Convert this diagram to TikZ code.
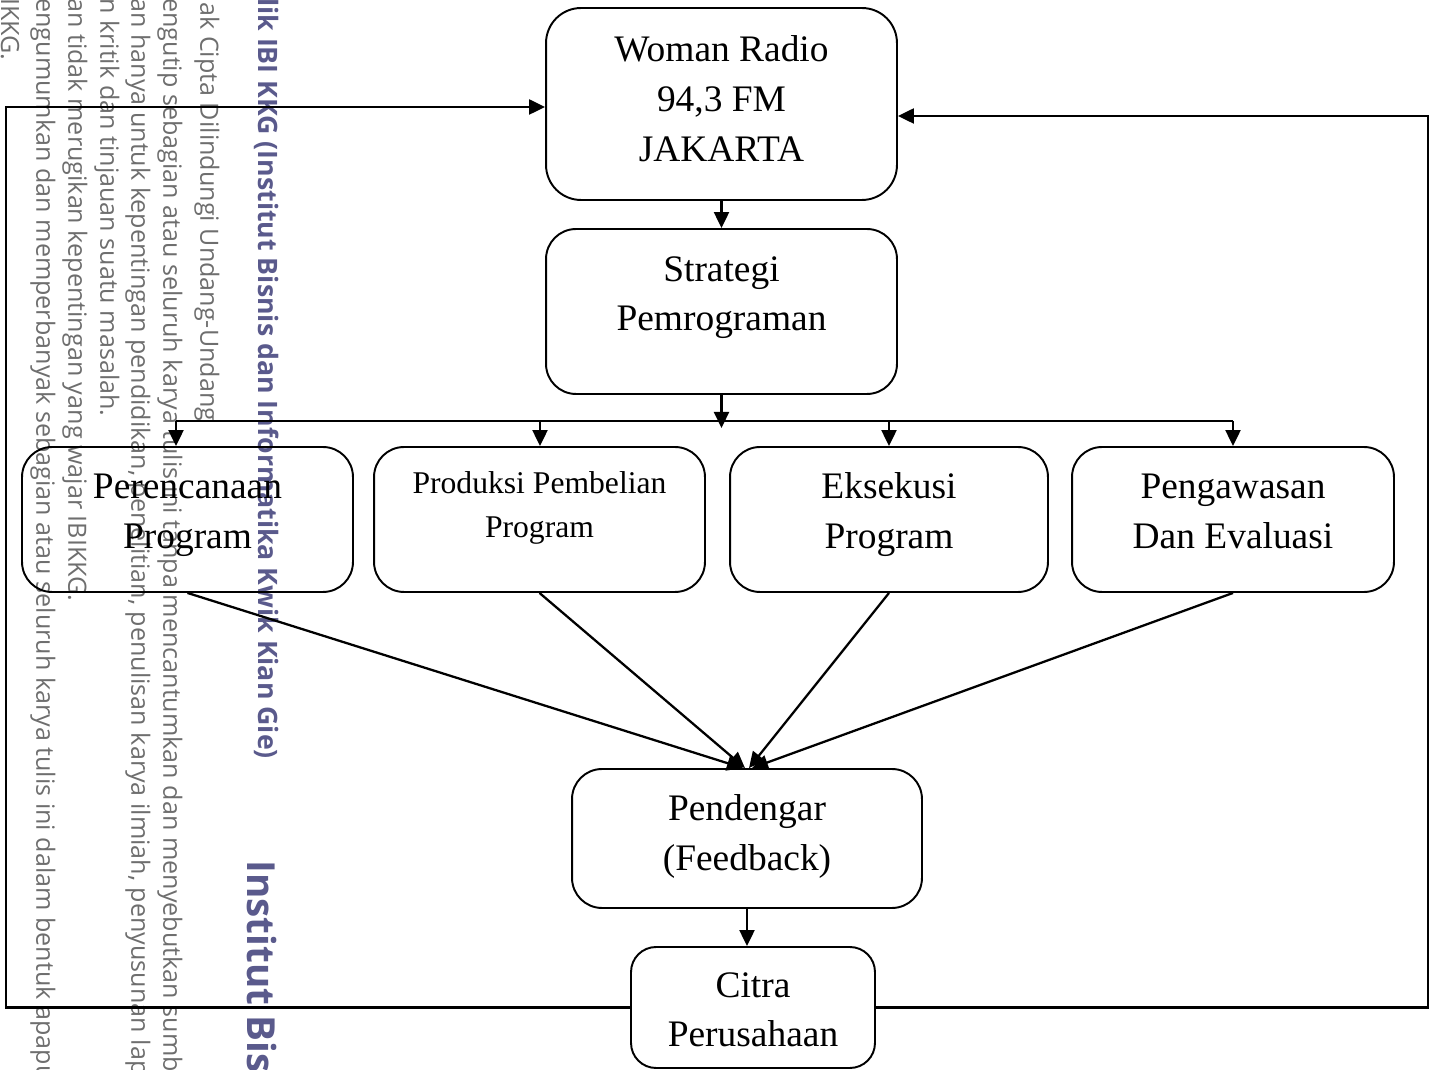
\documentclass[tikz,border=0pt]{standalone}
\usepackage{fontspec}
\setmainfont{Liberation Serif}
\newfontfamily\wmfont{Open Sans}
\usetikzlibrary{arrows.meta,positioning,calc}

\definecolor{wmGray}{HTML}{6E6E6E}
\definecolor{wmPurple}{HTML}{5A5A8C}

% text block of a box, lifted a bit inside its frame
\newcommand{\liftlines}[2]{\raisebox{#1}[\height][\depth]{\begin{tabular}{@{}c@{}}#2\end{tabular}}}

\tikzset{
    flowbox/.style={rectangle, draw, rounded corners=0.6cm, line width=1.1pt, align=center,
        inner sep=2pt, font=\fontsize{21.3}{28.4}\selectfont},
    smallbox/.style={flowbox, font=\fontsize{18}{25}\selectfont},
    arr/.style={-{Triangle[length=0.32cm,width=0.3cm]}, line width=1.3pt},
    link/.style={line width=1.3pt},
    % scan watermark
    wmtext/.style={rotate=-90, anchor=west, inner sep=0pt, text=wmGray,
        font=\wmfont\fontsize{14.3}{17}\selectfont},
    wmbold/.style={rotate=-90, anchor=west, inner sep=0pt, text=wmPurple,
        font=\wmfont\bfseries\fontsize{15.2}{18}\selectfont},
    wmbig/.style={wmbold, font=\wmfont\bfseries\fontsize{22}{26}\selectfont}
}

\begin{document}
\begin{tikzpicture}[x=0.02cm, y=-0.02cm]
    \useasboundingbox (0,0) rectangle (1438,1070);

    % Watermark (cut by the page edge)
    \begin{scope}
        \clip (0,0) rectangle (1438,1070);
        \node[wmtext] (wm1) at (10,-2) {IKKG.};
        \node[wmtext] (wm2) at (43,-2) {engumumkan dan memperbanyak sebagian atau seluruh karya tulis ini dalam bentuk apapun};
        \node[wmtext] (wm3) at (75,-2) {an tidak merugikan kepentingan yang wajar IBIKKG.};
        \node[wmtext] (wm4) at (107,-2) {n kritik dan tinjauan suatu masalah.};
        \node[wmtext] (wm5) at (138,-2) {an hanya untuk kepentingan pendidikan, penelitian, penulisan karya ilmiah, penyusunan laporan};
        \node[wmtext] (wm6) at (170,-2) {engutip sebagian atau seluruh karya tulis ini tanpa mencantumkan dan menyebutkan sumber};
        \node[wmtext] (wm7) at (207,2) {ak Cipta Dilindungi Undang-Undang};
        \node[wmbold] (wm8) at (267,-2) {lik IBI KKG (Institut Bisnis dan Informatika Kwik Kian Gie)};
        \node[wmbig] (wm9) at (262,860) {Institut Bisnis dan Informatika Kwik Kian Gie};
    \end{scope}

    % Boxes
    \node[flowbox, minimum width=7.02cm, minimum height=3.84cm, rounded corners=0.7cm] (radio) at (721.5,104)
        {\liftlines{0.05cm}{Woman Radio\\94,3 FM\\JAKARTA}};
    \node[flowbox, minimum width=7.02cm, minimum height=3.3cm] (strategi) at (721.5,311.5)
        {\liftlines{0.31cm}{Strategi\\Pemrograman}};

    \node[flowbox, minimum width=6.62cm, minimum height=2.9cm] (perencanaan) at (187.5,519.5)
        {\liftlines{0.12cm}{Perencanaan\\Program}};
    \node[smallbox, minimum width=6.62cm, minimum height=2.9cm] (produksi) at (539.5,519.5)
        {\liftlines{0.25cm}{Produksi Pembelian\\Program}};
    \node[flowbox, minimum width=6.36cm, minimum height=2.9cm] (eksekusi) at (889,519.5)
        {\liftlines{0.12cm}{Eksekusi\\Program}};
    \node[flowbox, minimum width=6.44cm, minimum height=2.9cm] (pengawasan) at (1233,519.5)
        {\liftlines{0.12cm}{Pengawasan\\Dan Evaluasi}};

    \node[flowbox, minimum width=7.0cm, minimum height=2.78cm] (pendengar) at (747,838.5)
        {\liftlines{0.06cm}{Pendengar\\(Feedback)}};
    \node[flowbox, minimum width=4.88cm, minimum height=2.42cm, rounded corners=0.5cm] (citra) at (753,1007.5)
        {\liftlines{-0.09cm}{Citra\\Perusahaan}};

    % Branching from the strategy box
    \coordinate (split) at (721.5,428);
    \coordinate (bus1) at (176,421);
    \coordinate (bus2) at (540,421);
    \coordinate (bus3) at (889,421);
    \coordinate (bus4) at (1233,421);

    \draw[arr] (radio) -- (strategi);
    \draw[arr] (strategi.south) -- (split);
    \draw[link] (bus1) -- (bus4);
    \draw[arr] (bus1) -- (bus1 |- perencanaan.north);
    \draw[arr] (bus2) -- (bus2 |- produksi.north);
    \draw[arr] (bus3) -- (bus3 |- eksekusi.north);
    \draw[arr] (bus4) -- (bus4 |- pengawasan.north);

    % Into the listeners
    \draw[arr] (perencanaan.south) -- ([xshift=-0.08cm]pendengar.north);
    \draw[arr] (produksi.south) -- ([xshift=-0.04cm]pendengar.north);
    \draw[arr] (eksekusi.south) -- ([xshift=0.04cm]pendengar.north);
    \draw[arr] (pengawasan.south) -- ([xshift=0.1cm]pendengar.north);
    \draw[arr] (pendengar.south) -- (pendengar.south |- citra.north);

    % Feedback loops back to the station
    \coordinate (loopL) at (6,107);
    \coordinate (loopR) at (1428,116);
    \draw[arr] (citra.west) -| (loopL) -- (loopL -| radio.west);
    \draw[arr] (citra.east) -| (loopR) -- (loopR -| radio.east);
\end{tikzpicture}
\end{document}
